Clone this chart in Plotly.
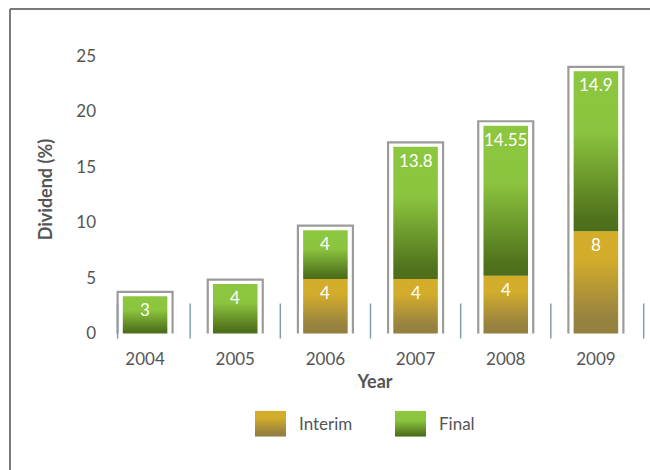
import plotly.graph_objects as go

# ---- data ----
years = ['2004', '2005', '2006', '2007', '2008', '2009']
interim_height = [0, 0, 4.9, 4.9, 5.2, 9.2]
final_height = [3.35, 4.45, 4.4, 11.9, 13.5, 14.4]
interim_labels = ['', '', '4', '4', '4', '8']
final_labels = ['3', '4', '4', '13.8', '14.55', '14.9']
y_ticks = [0, 5, 10, 15, 20, 25]

# ---- styles ----
FONT = 'Lato'
TXT = '#555555'
final_scale = [[0, '#4D6D1A'], [0.08, '#50721C'], [0.62, '#8BC43E'], [1, '#8DC63F']]
interim_scale = [[0, '#94803F'], [0.15, '#978240'], [0.72, '#D2AC2B'], [1, '#D4AD2A']]
BAR_HALF = 0.247
BOX_HALF = 0.305
BOX_GAP = 0.4

fig = go.Figure()
xs = list(range(len(years)))

def seg(x, base, top, scale, xa='x', ya='y', half=BAR_HALF):
    return go.Scatter(
        x=[x - half, x + half, x + half, x - half, x - half],
        y=[base, base, top, top, base],
        mode='lines', fill='toself', line=dict(width=0),
        fillgradient=dict(type='vertical', colorscale=scale),
        hoverinfo='skip', showlegend=False, xaxis=xa, yaxis=ya)

# stacked segments
for x, ih, fh in zip(xs, interim_height, final_height):
    if ih > 0:
        fig.add_trace(seg(x, 0, ih, interim_scale))
    fig.add_trace(seg(x, ih, ih + fh, final_scale))

# outline boxes (open at the bottom)
bx, by = [], []
for x, ih, fh in zip(xs, interim_height, final_height):
    t = ih + fh + BOX_GAP
    bx += [x - BOX_HALF, x - BOX_HALF, x + BOX_HALF, x + BOX_HALF, None]
    by += [0, t, t, 0, None]
fig.add_trace(go.Scatter(x=bx, y=by, mode='lines',
                         line=dict(color='#9b9b9b', width=2.2),
                         hoverinfo='skip', showlegend=False))

# value labels
for x, ih, fh, il, fl in zip(xs, interim_height, final_height, interim_labels, final_labels):
    for lab, top in ((il, ih), (fl, ih + fh)):
        if lab:
            fig.add_annotation(x=x, y=top, xref='x', yref='y', text=lab,
                               showarrow=False, yanchor='top', yshift=-1,
                               font=dict(family=FONT, size=17, color='white'))

# separators between categories
sep_x = [-BOX_HALF] + [x + 0.5 for x in xs[:-1]] + [xs[-1] + 0.53]
for sx in sep_x:
    fig.add_shape(type='line', xref='x', yref='y', x0=sx, x1=sx, y0=-0.45, y1=2.7,
                  line=dict(color='#7f9fb0', width=1.5))

# ---- custom legend (second, hidden subplot) ----
legend_items = [('Interim', interim_scale, 255), ('Final', final_scale, 395)]
for name, scale, x0 in legend_items:
    fig.add_trace(go.Scatter(
        x=[x0, x0 + 31, x0 + 31, x0, x0], y=[0, 0, 1, 1, 0],
        mode='lines', fill='toself', line=dict(width=0),
        fillgradient=dict(type='vertical', colorscale=scale),
        hoverinfo='skip', showlegend=False, xaxis='x2', yaxis='y2'))
    fig.add_annotation(x=x0 + 42, y=0.5, xref='x2', yref='y2', text=name,
                       showarrow=False, xanchor='left', yanchor='middle',
                       font=dict(family=FONT, size=17, color=TXT))

# ---- frame (top and left lines) ----
L, T, B, W, H = 100, 39, 20, 650, 470
pw, ph = W - L, H - T - B
px = lambda v: (v - L) / pw
py = lambda v: (H - B - v) / ph
fig.add_shape(type='line', xref='paper', yref='paper', x0=px(10), x1=px(652),
              y0=py(9), y1=py(9), line=dict(color='#7a7a7a', width=2))
fig.add_shape(type='line', xref='paper', yref='paper', x0=px(10), x1=px(10),
              y0=py(9), y1=py(472), line=dict(color='#7a7a7a', width=2))

fig.update_layout(
    width=W, height=H,
    margin=dict(l=L, r=0, t=T, b=B),
    plot_bgcolor='white', paper_bgcolor='white',
    font=dict(family=FONT, color=TXT, size=17),
    xaxis=dict(range=[-0.5, 5.6], tickvals=xs, ticktext=years, showgrid=False,
               zeroline=False, showline=False, ticks='', ticklabelstandoff=7,
               tickfont=dict(size=17, color=TXT),
               title=dict(text='Year', font=dict(size=18, color=TXT, weight='bold'),
                          standoff=7)),
    yaxis=dict(domain=[py(340.2), 1], range=[-0.6, 26.5], tickvals=y_ticks,
               showgrid=False, zeroline=False, showline=False, ticks='',
               ticklabelstandoff=3,
               tickfont=dict(size=17, color=TXT),
               title=dict(text='Dividend (%)', font=dict(size=18, color=TXT, weight='bold'),
                          standoff=18)),
    xaxis2=dict(domain=[0, 1], range=[L, W], visible=False, anchor='y2'),
    yaxis2=dict(domain=[py(436.7), py(410.7)], range=[0, 1], visible=False, anchor='x2'),
)

fig.write_html('out.html', config={'displayModeBar': False},
               post_script="document.body.style.margin='0';document.body.style.overflow='hidden';")
